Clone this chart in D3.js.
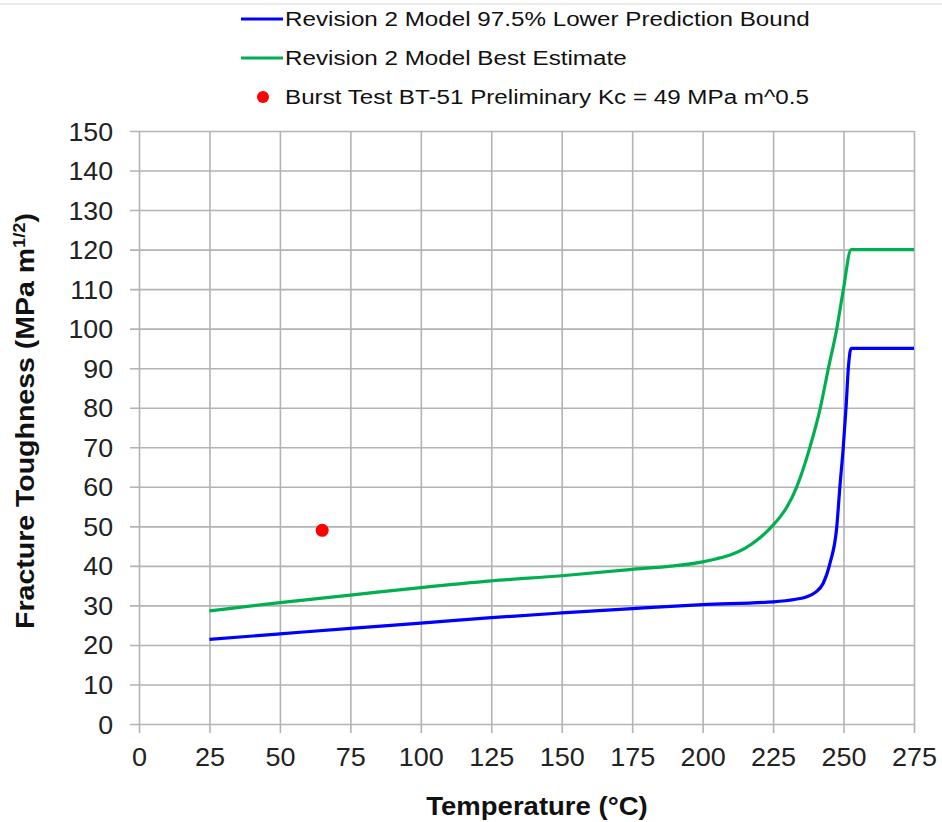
<!DOCTYPE html>
<html>
<head>
<meta charset="utf-8">
<script src="https://cdn.jsdelivr.net/npm/d3@7"></script>
<style>
  body { margin: 0; background: #fff; }
  text { font-family: 'Liberation Sans', Arial, sans-serif; }
</style>
</head>
<body>
<svg id="chart" width="942" height="822"></svg>
<script>
'use strict';
// Revision 2 model, 97.5% lower prediction bound
const LOWER_TEMP = [25, 50, 75, 100, 125, 150, 175, 200, 225, 232.5, 237, 240, 242.8, 245.2, 247.6, 248.7, 249.9, 250.9, 251.7, 252.7, 275];
const LOWER_KC = [21.4, 22.8, 24.2, 25.5, 26.9, 28.1, 29.2, 30.2, 30.9, 31.5, 32.2, 33.3, 35.6, 40.7, 49.9, 60, 70, 80.2, 90, 95, 95];
// Revision 2 model, best estimate
const BEST_TEMP = [25, 50, 75, 100, 125, 150, 175, 200, 205, 210, 215, 220, 225, 227.5, 230, 233.4, 238.1, 241.7, 244.6, 247.6, 249.9, 252.7, 275];
const BEST_KC = [28.6, 30.7, 32.6, 34.5, 36.2, 37.5, 39.1, 41.0, 41.8, 42.8, 44.4, 46.9, 50.3, 52.4, 55.0, 60, 70.1, 79.8, 89.9, 100, 109.7, 120, 120];
// Burst test BT-51
const TEST_TEMP = [65];
const TEST_KC = [49];

const X_TICKS = [0, 25, 50, 75, 100, 125, 150, 175, 200, 225, 250, 275];
const Y_TICKS = [0, 10, 20, 30, 40, 50, 60, 70, 80, 90, 100, 110, 120, 130, 140, 150];
const LEGEND = [
  { label: 'Revision 2 Model 97.5% Lower Prediction Bound', color: '#0000ff', type: 'line' },
  { label: 'Revision 2 Model Best Estimate', color: '#00b050', type: 'line' },
  { label: 'Burst Test BT-51 Preliminary Kc = 49 MPa m^0.5', color: '#ff0000', type: 'dot' },
];

const svg = d3.select('#chart');
const margin = { top: 131, left: 139, right: 28, bottom: 98 };
const width = 942 - margin.left - margin.right;
const height = 822 - margin.top - margin.bottom;

// the source picture is a little wider than the fonts: stretch text to match
function stretch(sel, k) {
  sel.each(function () {
    const w = this.getComputedTextLength();
    d3.select(this).attr('textLength', w * k).attr('lengthAdjust', 'spacingAndGlyphs');
  });
}

// cut-off border at the very top
svg.append('line')
  .attr('x1', 0).attr('x2', 942).attr('y1', 4).attr('y2', 4)
  .attr('stroke', '#d9d9d9').attr('stroke-width', 1);

const x = d3.scaleLinear().domain([0, 275]).range([margin.left, margin.left + width]);
const y = d3.scaleLinear().domain([0, 150]).range([margin.top + height, margin.top]);

const g = svg.append('g');

// grid + ticks
g.append('g')
  .attr('transform', `translate(0,${margin.top + height})`)
  .call(d3.axisBottom(x).tickValues(X_TICKS).tickSize(-(height + 9)).tickSizeOuter(0))
  .call((a) => a.select('.domain').remove())
  .call((a) => a.selectAll('.tick line').attr('stroke', '#b3b3b3').attr('stroke-width', 1.6).attr('y1', 9).attr('y2', -height))
  .call((a) => a.selectAll('.tick text').attr('fill', '#222').attr('font-size', 25).attr('y', 42).attr('dy', 0)
    .call(stretch, 1.08));

g.append('g')
  .attr('transform', `translate(${margin.left},0)`)
  .call(d3.axisLeft(y).tickValues(Y_TICKS).tickSize(0).tickPadding(26))
  .call((a) => a.select('.domain').remove())
  .call((a) => a.selectAll('.tick line').attr('stroke', '#b3b3b3').attr('stroke-width', 1.6).attr('x1', -9).attr('x2', width))
  .call((a) => a.selectAll('.tick text').attr('fill', '#222').attr('font-size', 25).attr('dy', '0.36em')
    .call(stretch, 1.07));

// series
const line = d3.line().x((d) => x(d[0])).y((d) => y(d[1])).curve(d3.curveMonotoneX);

g.append('path')
  .datum(BEST_TEMP.map((t, i) => [t, BEST_KC[i]]))
  .attr('fill', 'none').attr('stroke', '#00b050').attr('stroke-width', 3.2)
  .attr('stroke-linejoin', 'round')
  .attr('d', line);

g.append('path')
  .datum(LOWER_TEMP.map((t, i) => [t, LOWER_KC[i]]))
  .attr('fill', 'none').attr('stroke', '#0000ff').attr('stroke-width', 3.2)
  .attr('stroke-linejoin', 'round')
  .attr('d', line);

g.selectAll('circle.test')
  .data(TEST_TEMP.map((t, i) => [t, TEST_KC[i]]))
  .enter().append('circle')
  .attr('class', 'test')
  .attr('cx', (d) => x(d[0])).attr('cy', (d) => y(d[1]))
  .attr('r', 6.5).attr('fill', '#ff0000');

// axis titles
svg.append('text')
  .attr('x', 537).attr('y', 815)
  .attr('text-anchor', 'middle')
  .attr('font-size', 25).attr('font-weight', 'bold').attr('fill', '#111')
  .text('Temperature (°C)')
  .call(stretch, 1.1);

const yTitle = svg.append('text')
  .attr('transform', 'translate(34,421) rotate(-90) scale(1.14,1)')
  .attr('text-anchor', 'middle')
  .attr('font-size', 25).attr('font-weight', 'bold').attr('fill', '#111');
yTitle.append('tspan').text('Fracture Toughness (MPa m');
yTitle.append('tspan').attr('dy', -9).attr('font-size', 16).text('1/2');
yTitle.append('tspan').attr('dy', 9).text(')');

// legend
const leg = svg.append('g');
LEGEND.forEach((d, i) => {
  const cy = 19 + i * 39;
  if (d.type === 'line') {
    leg.append('line')
      .attr('x1', 241).attr('x2', 283).attr('y1', cy).attr('y2', cy)
      .attr('stroke', d.color).attr('stroke-width', 3.2);
  } else {
    leg.append('circle').attr('cx', 263).attr('cy', cy).attr('r', 6).attr('fill', d.color);
  }
  leg.append('text')
    .attr('x', 285).attr('y', cy + 7)
    .attr('font-size', 20).attr('fill', '#111')
    .text(d.label)
    .call(stretch, 1.21);
});
</script>
</body>
</html>
